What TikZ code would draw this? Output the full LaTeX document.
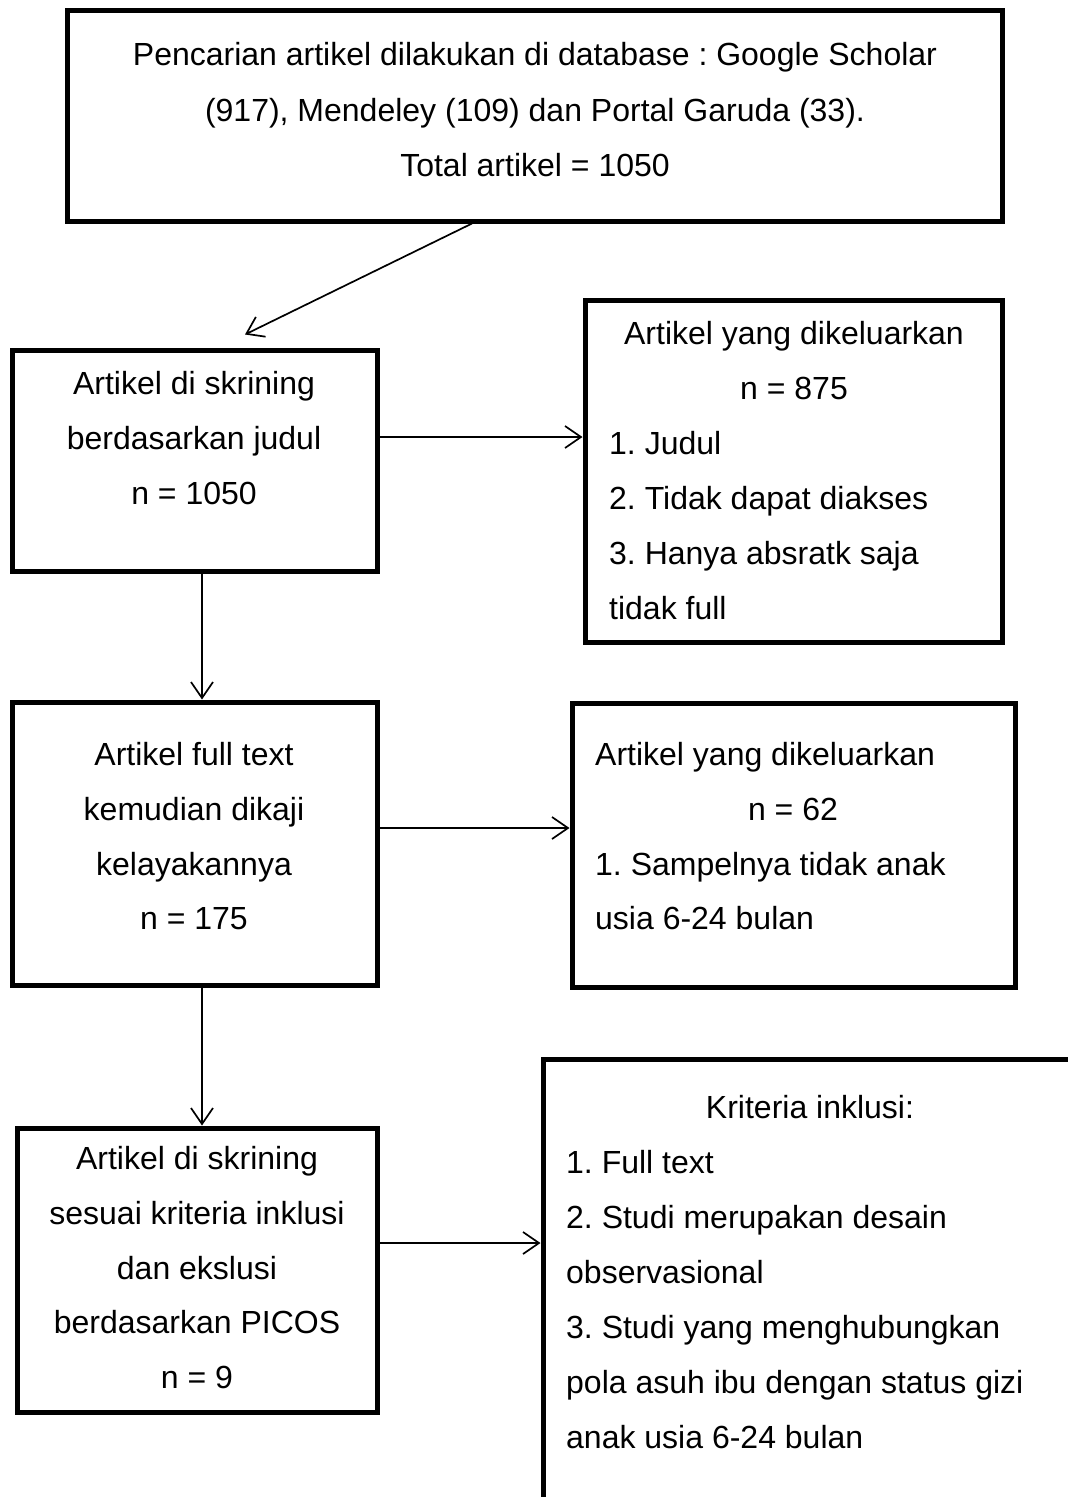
\documentclass[tikz,border=0pt]{standalone}
\usepackage{fontspec}
\setmainfont{Liberation Sans}
\usetikzlibrary{arrows.meta}
\frenchspacing
\begin{document}
\begin{tikzpicture}[x=1pt,y=-1pt,
  box/.style={draw, line width=5pt, inner sep=0pt},
  arr/.style={line width=1.7pt, -{Straight Barb[length=16pt,width=22pt,line width=1.7pt]}},
  tc/.style={anchor=base, inner sep=0pt, font=\fontsize{32}{36}\selectfont},
  tl/.style={anchor=base west, inner sep=0pt, font=\fontsize{32}{36}\selectfont}]
\useasboundingbox (0,0) rectangle (1068,1497);
\begin{scope}
\clip (0,0) rectangle (1068,1497);
% boxes
\node[box, minimum width=935pt, minimum height=211pt] (b1) at (534.5,115.5) {};
\node[box, minimum width=365pt, minimum height=221pt] (b2) at (194.5,460.5) {};
\node[box, minimum width=417pt, minimum height=342pt] (b3) at (793.5,471) {};
\node[box, minimum width=365pt, minimum height=283pt] (b4) at (194.5,843.5) {};
\node[box, minimum width=443pt, minimum height=284pt] (b5) at (793.5,845) {};
\node[box, minimum width=360pt, minimum height=284pt] (b6) at (197,1270) {};
\node[box, minimum width=560pt, minimum height=480pt] (b7) at (823,1299) {};
\end{scope}
% texts box 1
\node[tc] (t11) at (535,65) {Pencarian artikel dilakukan di database : Google Scholar};
\node[tc] (t12) at (535,121) {(917), Mendeley (109) dan Portal Garuda (33).};
\node[tc] (t13) at (535,176) {Total artikel = 1050};
% box 2
\node[tc] (t21) at (194,394) {Artikel di skrining};
\node[tc] (t22) at (194,449) {berdasarkan judul};
\node[tc] (t23) at (194,504) {n = 1050};
% box 3
\node[tc] (t31) at (794,344) {Artikel yang dikeluarkan};
\node[tc] (t32) at (794,399) {n = 875};
\node[tl] (t33) at (609,454) {1. Judul};
\node[tl] (t34) at (609,509) {2. Tidak dapat diakses};
\node[tl] (t35) at (609,564) {3. Hanya absratk saja};
\node[tl] (t36) at (609,619) {tidak full};
% box 4
\node[tc] (t41) at (194,765) {Artikel full text};
\node[tc] (t42) at (194,820) {kemudian dikaji};
\node[tc] (t43) at (194,875) {kelayakannya};
\node[tc] (t44) at (194,929) {n = 175};
% box 5
\node[tl] (t51) at (595,765) {Artikel yang dikeluarkan};
\node[tc] (t52) at (793,820) {n = 62};
\node[tl] (t53) at (595,875) {1. Sampelnya tidak anak};
\node[tl] (t54) at (595,929) {usia 6-24 bulan};
% box 6
\node[tc] (t61) at (197,1169) {Artikel di skrining};
\node[tc] (t62) at (197,1224) {sesuai kriteria inklusi};
\node[tc] (t63) at (197,1279) {dan ekslusi};
\node[tc] (t64) at (197,1333) {berdasarkan PICOS};
\node[tc] (t65) at (197,1388) {n = 9};
% box 7
\node[tc] (t71) at (810,1118) {Kriteria inklusi:};
\node[tl] (t72) at (566,1173) {1. Full text};
\node[tl] (t73) at (566,1228) {2. Studi merupakan desain};
\node[tl] (t74) at (566,1283) {observasional};
\node[tl] (t75) at (566,1338) {3. Studi yang menghubungkan};
\node[tl] (t76) at (566,1393) {pola asuh ibu dengan status gizi};
\node[tl] (t77) at (566,1448) {anak usia 6-24 bulan};
% connectors
\draw[arr] ([xshift=-62.5pt]b1.south) -- ([xshift=50.5pt,yshift=13pt]b2.north);
\draw[arr] ([yshift=23.5pt]b2.east) -- ([yshift=23.5pt]b2.east -| b3.west);
\draw[arr] ([xshift=7.5pt]b2.south) -- ([xshift=7.5pt]b2.south |- b4.north);
\draw[arr] ([yshift=15.5pt]b4.east) -- ([yshift=15.5pt]b4.east -| b5.west);
\draw[arr] ([xshift=7.5pt]b4.south) -- ([xshift=7.5pt]b4.south |- b6.north);
\draw[arr] ([yshift=27pt]b6.east) -- ([yshift=27pt]b6.east -| b7.west);
\end{tikzpicture}
\end{document}
